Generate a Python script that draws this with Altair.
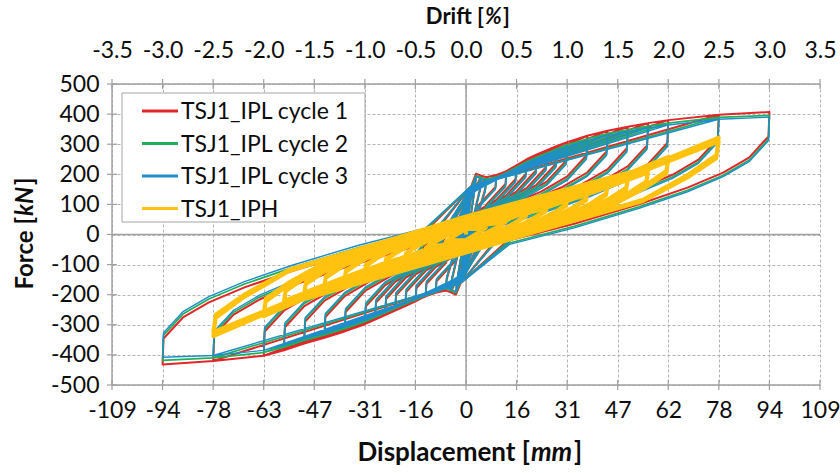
import json
import altair as alt
import pandas as pd

FONT = "Lato"
W, H = 708, 301
GRID = "#b3b3b3"
FRAME = "#a0a0a0"
INK = "#0d0d0d"

# ---- axes -----------------------------------------------------------------
x_ticks = [i * 15.625 for i in range(-7, 8)]          # every 0.5 % drift
x_labels = ["-109", "-94", "-78", "-63", "-47", "-31", "-16", "0",
            "16", "31", "47", "62", "78", "94", "109"]
drift_labels = ["-3.5", "-3.0", "-2.5", "-2.0", "-1.5", "-1.0", "-0.5", "0.0",
                "0.5", "1.0", "1.5", "2.0", "2.5", "3.0", "3.5"]
y_ticks = [-500, -400, -300, -200, -100, 0, 100, 200, 300, 400, 500]

# ---- in-plane loading (IPL): amplitudes in mm, peak forces in kN ---------
ipl_amp = [1.6, 3.1, 4.7, 6.25, 9.4, 12.5, 15.6, 18.75, 21.9, 25.0, 28.1, 31.25,
           37.5, 43.75, 50.0, 56.25, 62.5, 78.1, 93.75]
c1_pos = [160, 202, 195, 190, 198, 210, 230, 250, 266, 280, 294, 307,
          328, 345, 358, 370, 380, 398, 407]
c1_neg = [-160, -200, -192, -186, -194, -205, -222, -238, -253, -268, -283, -298,
          -322, -343, -362, -385, -403, -420, -432]
c2_pos = [155, 196, 189, 184, 192, 203, 222, 242, 257, 271, 285, 298,
          318, 335, 348, 360, 370, 389, 396]
c2_neg = [-155, -194, -186, -180, -188, -198, -215, -231, -246, -260, -275, -290,
          -313, -334, -352, -374, -392, -410, -418]
c3_pos = [150, 192, 185, 180, 188, 198, 217, 237, 252, 266, 279, 292,
          312, 329, 342, 354, 364, 383, 390]
c3_neg = [-150, -190, -182, -176, -184, -194, -210, -226, -241, -255, -270, -284,
          -307, -328, -346, -367, -385, -402, -408]
# force on the slip plateau just past zero displacement
ipl_slip_d = 1.5
ipl_slip = [120, 150, 120, 120, 130, 135, 138, 140, 142, 145, 148, 150,
            150, 155, 155, 160, 160, 160, 160]
# first loading of cycle 1 up to the slip plateau
first_d = [0.5]
first_f = [60]
# unloading: sudden drop to a fraction of the peak, then a softening branch
drop_dx = 0.3
drop_ratio = 0.8
branch_dx = [6, 14, 25, 40, 60, 80]            # mm back from the drop point
branch_df = [70, 120, 170, 225, 290, 345]      # kN below the drop point

# ---- IPH protocol: two cycles per amplitude ---------------------------------
iph_amp = [6.25, 12.5, 18.75, 25.0, 31.25, 37.5, 43.75, 50.0, 56.25, 62.5, 78.1]
iph_pos_a = [30, 55, 78, 100, 122, 145, 167, 190, 215, 258, 322]
iph_neg_a = [-30, -56, -80, -104, -128, -152, -176, -202, -230, -272, -338]
iph_mid_a = [20, 30, 38, 44, 48, 52, 55, 57, 58, 59, 60]   # force at zero displacement
iph_pos_b = [28, 52, 74, 95, 116, 138, 159, 181, 205, 246, 308]
iph_neg_b = [-28, -53, -76, -99, -122, -145, -168, -193, -220, -260, -324]
iph_mid_b = [18, 28, 36, 42, 46, 50, 53, 55, 56, 57, 58]
iph_load_x, iph_load_f = [0.7, 1.0], [0.68, 1.0]
iph_unload_x, iph_unload_f = [0.99, 0.88, 0.7], [0.82, 0.62, 0.36]

series_names = ["TSJ1_IPL cycle 1", "TSJ1_IPL cycle 2", "TSJ1_IPL cycle 3", "TSJ1_IPH"]
series_colors = ["#E3262A", "#21B05A", "#1F8DCB", "#FFC20E"]
series_widths = [2.0, 1.7, 1.4, 3.8]


def unloading(d, p, sign):
    """Drop from the peak (sign*d, p) and follow the unloading branch while it stays on that side."""
    x0, f0 = d - drop_dx, drop_ratio * p
    pts = [(sign * x0, f0)]
    for dx, df in zip(branch_dx, branch_df):
        if x0 - dx <= 0:
            break
        pts.append((sign * (x0 - dx), f0 - sign * df))
    return pts


def ipl_path(pos, neg, with_first):
    pts = [(0.0, 0.0)]
    if with_first:
        pts += list(zip(first_d, first_f))
    for k, d in enumerate(ipl_amp):
        pts.append((ipl_slip_d, ipl_slip[k]))
        if k:
            pts.append((ipl_amp[k - 1], pos[k - 1]))
        pts.append((d, pos[k]))
        pts += unloading(d, pos[k], 1)
        pts.append((-ipl_slip_d, -ipl_slip[k]))
        if k:
            pts.append((-ipl_amp[k - 1], neg[k - 1]))
        pts.append((-d, neg[k]))
        pts += unloading(d, neg[k], -1)
    return pts


def iph_loop(d, p, n, c):
    pts = [(0.0, c)]
    pts += [(lx * d, lf * p) for lx, lf in zip(iph_load_x, iph_load_f)]
    pts += [(ux * d, uf * p) for ux, uf in zip(iph_unload_x, iph_unload_f)]
    pts.append((0.0, -c))
    pts += [(-lx * d, lf * n) for lx, lf in zip(iph_load_x, iph_load_f)]
    pts += [(-ux * d, uf * n) for ux, uf in zip(iph_unload_x, iph_unload_f)]
    pts.append((0.0, c))
    return pts


def iph_path():
    pts = [(0.0, 0.0)]
    for k, d in enumerate(iph_amp):
        pts += iph_loop(d, iph_pos_a[k], iph_neg_a[k], iph_mid_a[k])
        pts += iph_loop(d, iph_pos_b[k], iph_neg_b[k], iph_mid_b[k])
    return pts


paths = [ipl_path(c1_pos, c1_neg, True), ipl_path(c2_pos, c2_neg, False),
         ipl_path(c3_pos, c3_neg, False), iph_path()]

xs = alt.Scale(domain=[x_ticks[0], x_ticks[-1]], nice=False, zero=False)
ys = alt.Scale(domain=[y_ticks[0], y_ticks[-1]], nice=False, zero=False)

common = dict(labelFont=FONT, labelFontSize=23, labelColor=INK, domain=False, ticks=False,
              labelOverlap=False, labelFlush=False, labelBound=False, title=None)
x_bottom = alt.Axis(orient="bottom", values=x_ticks, grid=True, gridColor=GRID, gridDash=[3, 2],
                    gridWidth=1, labelPadding=14,
                    labelExpr=json.dumps(x_labels) + "[round((datum.value + 109.375) / 15.625)]",
                    **common)
x_top = alt.Axis(orient="top", values=x_ticks, grid=False, labelPadding=22,
                 labelExpr=json.dumps(drift_labels) + "[round((datum.value + 109.375) / 15.625)]",
                 **common)
y_left = alt.Axis(orient="left", values=y_ticks, grid=True, gridColor=GRID, gridDash=[3, 2],
                  gridWidth=1, labelPadding=13, labelExpr="'' + datum.value", **common)


def X(field):
    return alt.X(field, scale=xs, axis=None)


def Y(field):
    return alt.Y(field, scale=ys, axis=y_left)


one = pd.DataFrame({"x": [0.0], "y": [0.0]})
tick_df = pd.DataFrame({"x": x_ticks})
ytick_df = pd.DataFrame({"y": y_ticks})

layers = []
layers.append(alt.Chart(one).mark_point(opacity=0).encode(
    x=alt.X("x:Q", scale=xs, axis=x_bottom), y=Y("y:Q")))
layers.append(alt.Chart(one).mark_point(opacity=0).encode(
    x=alt.X("x:Q", scale=xs, axis=x_top), y=Y("y:Q")))

# solid frame lines: top, bottom and the zero lines
layers.append(alt.Chart(pd.DataFrame({"y": [y_ticks[0], y_ticks[-1], 0]})).mark_rule(
    color=FRAME, strokeWidth=1.4).encode(y=Y("y:Q"), x=alt.value(0), x2=alt.value(W)))
layers.append(alt.Chart(pd.DataFrame({"x": [x_ticks[0], 0.0]})).mark_rule(
    color=FRAME, strokeWidth=1.4).encode(x=X("x:Q"), y=alt.value(0), y2=alt.value(H)))
# cross tick marks
for y0 in (0, H):
    layers.append(alt.Chart(tick_df).mark_rule(color=FRAME, strokeWidth=1.2).encode(
        x=X("x:Q"), y=alt.value(y0 - 5), y2=alt.value(y0 + 5)))
layers.append(alt.Chart(ytick_df).mark_rule(color=FRAME, strokeWidth=1.2).encode(
    y=Y("y:Q"), x=alt.value(-5), x2=alt.value(5)))

# hysteresis loops
for name, col, sw, pts in zip(series_names, series_colors, series_widths, paths):
    df = pd.DataFrame({"d": [p[0] for p in pts], "f": [p[1] for p in pts],
                       "i": list(range(len(pts)))})
    layers.append(alt.Chart(df).mark_line(color=col, strokeWidth=sw, strokeJoin="round").encode(
        x=X("d:Q"), y=Y("f:Q"), order="i:Q"))

# legend
layers.append(alt.Chart(one).mark_rect(fill="white", stroke="#a6a6a6", strokeWidth=1).encode(
    x=alt.value(10), x2=alt.value(253), y=alt.value(9), y2=alt.value(138)))
for i, (name, col) in enumerate(zip(series_names, series_colors)):
    yy = 27 + i * 32.5
    layers.append(alt.Chart(one).mark_rule(color=col, strokeWidth=3).encode(
        x=alt.value(30), x2=alt.value(66), y=alt.value(yy)))
    layers.append(alt.Chart(one).mark_text(text=name, align="left", baseline="middle",
                                           font=FONT, fontSize=23, color=INK).encode(
        x=alt.value(69), y=alt.value(yy + 1)))


def title_piece(text, x, y, align, size, italic=False, angle=0):
    return alt.Chart(one).mark_text(text=text, align=align, baseline="alphabetic", font=FONT,
                                    fontSize=size, fontWeight="bold", color=INK,
                                    fontStyle="italic" if italic else "normal",
                                    angle=angle).encode(x=alt.value(x), y=alt.value(y))


# axis titles
layers += [title_piece("Drift [", 372, -60, "right", 22),
           title_piece("%", 373, -60, "left", 22, True),
           title_piece("]", 391, -60, "left", 22)]
layers += [title_piece("Displacement [", 418, 377, "right", 26),
           title_piece("mm", 419, 377, "left", 26, True),
           title_piece("]", 462, 377, "left", 26)]
layers += [title_piece("Force [", -79, 133, "right", 24, angle=270),
           title_piece("kN", -79, 132, "left", 24, True, angle=270),
           title_piece("]", -79, 101, "left", 24, angle=270)]

chart = alt.layer(*layers).resolve_axis(x="independent").properties(
    width=W, height=H,
    autosize=alt.AutoSizeParams(type="none"),
    padding={"left": 112, "top": 84, "right": 20, "bottom": 88},
    background="white",
).configure_view(stroke=None)

chart.save("out.html", embed_options={"renderer": "svg", "actions": False})
